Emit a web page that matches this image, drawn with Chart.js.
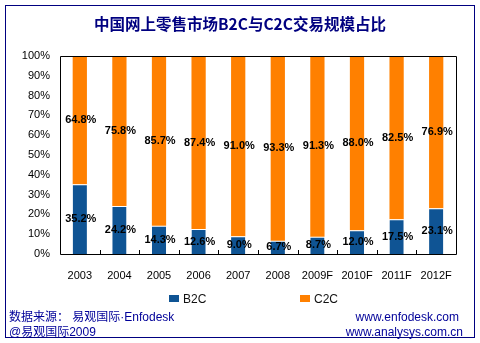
<!DOCTYPE html>
<html><head><meta charset="utf-8">
<script src="https://cdn.jsdelivr.net/npm/chart.js@4/dist/chart.umd.min.js"></script>
<style>
html,body{margin:0;padding:0;background:#fff;}
#wrap{position:relative;width:480px;height:343px;overflow:hidden;font-family:"Liberation Sans",Arial,sans-serif;}
#frame{position:absolute;left:5px;top:5px;width:468px;height:331px;border:1px solid #000080;}
#title{position:absolute;left:0;top:13px;width:480px;text-align:center;color:#000080;font:bold 15.5px "Noto Sans CJK SC",sans-serif;line-height:20px;}
canvas{position:absolute;left:0;top:0;}
.lg{position:absolute;top:292px;font:12px "Liberation Sans",Arial,sans-serif;color:#111;line-height:14px;}
.sw{position:absolute;width:10px;height:7px;}
.ft{position:absolute;font:12px "Liberation Sans","Noto Sans CJK SC",sans-serif;color:#000099;line-height:14px;white-space:nowrap;}
</style></head>
<body><div id="wrap">
<div id="frame"></div>
<canvas id="c" width="480" height="343"></canvas>
<div id="title">中国网上零售市场B2C与C2C交易规模占比</div>
<div id="legend"></div>
<div class="ft" style="left:9px;top:310px;">数据来源： 易观国际·Enfodesk</div>
<div class="ft" style="left:9px;top:325px;">@易观国际2009</div>
<div class="ft" style="right:21px;top:310px;">www.enfodesk.com</div>
<div class="ft" style="right:17px;top:325px;">www.analysys.com.cn</div>
</div>
<script>
const categories = ["2003","2004","2005","2006","2007","2008","2009F","2010F","2011F","2012F"];
const seriesNames = ["B2C","C2C"];
const b2cValues = [35.2,24.2,14.3,12.6,9.0,6.7,8.7,12.0,17.5,23.1];
const c2cValues = [64.8,75.8,85.7,87.4,91.0,93.3,91.3,88.0,82.5,76.9];
const yTicks = [0,10,20,30,40,50,60,70,80,90,100];
const colors = ["#0F5494","#FF8000"];

// legend (HTML)
const lg = document.getElementById('legend');
const lgX = [169, 300];
seriesNames.forEach((n,i)=>{
  const s=document.createElement('div');s.className='sw';
  s.style.left=lgX[i]+'px';s.style.top='295px';s.style.background=colors[i];
  lg.appendChild(s);
  const t=document.createElement('div');t.className='lg';
  t.style.left=(lgX[i]+14)+'px';t.textContent=n;
  lg.appendChild(t);
});

const valueLabels = {
  id:'valueLabels',
  afterDatasetsDraw(chart){
    const ctx=chart.ctx;
    ctx.save();
    ctx.font='bold 11px "Liberation Sans", Arial, sans-serif';
    ctx.fillStyle='#000';
    ctx.textAlign='center';
    ctx.textBaseline='middle';
    chart.data.datasets.forEach((ds,di)=>{
      chart.getDatasetMeta(di).data.forEach((el,i)=>{
        const y=(el.y+el.base)/2;
        ctx.fillText(ds.data[i].toFixed(1)+'%', el.x+1, y);
      });
    });
    ctx.restore();
  }
};
const boxBorder = {
  id:'boxBorder',
  afterDraw(chart){
    const a=chart.chartArea, ctx=chart.ctx;
    ctx.save();
    ctx.strokeStyle='#000';ctx.lineWidth=1;
    ctx.beginPath();
    ctx.moveTo(a.left+0.5,a.bottom+0.5);ctx.lineTo(a.left+0.5,a.top+0.5);
    ctx.lineTo(a.right+0.5,a.top+0.5);ctx.lineTo(a.right+0.5,a.bottom+0.5);
    ctx.lineTo(a.left+0.5,a.bottom+0.5);
    ctx.stroke();
    const xs=chart.scales.x;
    for(let i=1;i<categories.length;i++){
      const x=Math.round((xs.getPixelForValue(i-1)+xs.getPixelForValue(i))/2)+0.5;
      ctx.beginPath();ctx.moveTo(x,a.bottom);ctx.lineTo(x,a.bottom-4);ctx.stroke();
    }
    ctx.restore();
  }
};

new Chart(document.getElementById('c'),{
  type:'bar',
  data:{
    labels:categories,
    datasets:[
      {label:seriesNames[0],data:b2cValues,backgroundColor:colors[0],borderColor:'#fff',borderWidth:{top:1,left:0,right:0,bottom:0},borderSkipped:false,barPercentage:0.36,categoryPercentage:1},
      {label:seriesNames[1],data:c2cValues,backgroundColor:colors[1],borderWidth:0,barPercentage:0.36,categoryPercentage:1}
    ]
  },
  options:{
    responsive:false,animation:false,
    layout:{padding:{top:56,right:24,left:0,bottom:59}},
    plugins:{legend:{display:false},title:{display:false},tooltip:{enabled:false}},
    scales:{
      x:{stacked:true,grid:{display:false},border:{display:false},
        ticks:{color:'#000',font:{family:'"Liberation Sans", Arial, sans-serif',size:11},padding:7,maxRotation:0,autoSkip:false},
        afterFit(s){s.height=30;}},
      y:{stacked:true,min:0,max:100,grid:{display:false,drawTicks:false},border:{display:false},
        afterBuildTicks(s){s.ticks=yTicks.map(v=>({value:v}));},
        ticks:{color:'#000',font:{family:'"Liberation Sans", Arial, sans-serif',size:11},padding:10,callback:v=>v+'%'},
        afterFit(s){s.width=60;}}
    }
  },
  plugins:[valueLabels,boxBorder]
});
</script>
</body></html>
